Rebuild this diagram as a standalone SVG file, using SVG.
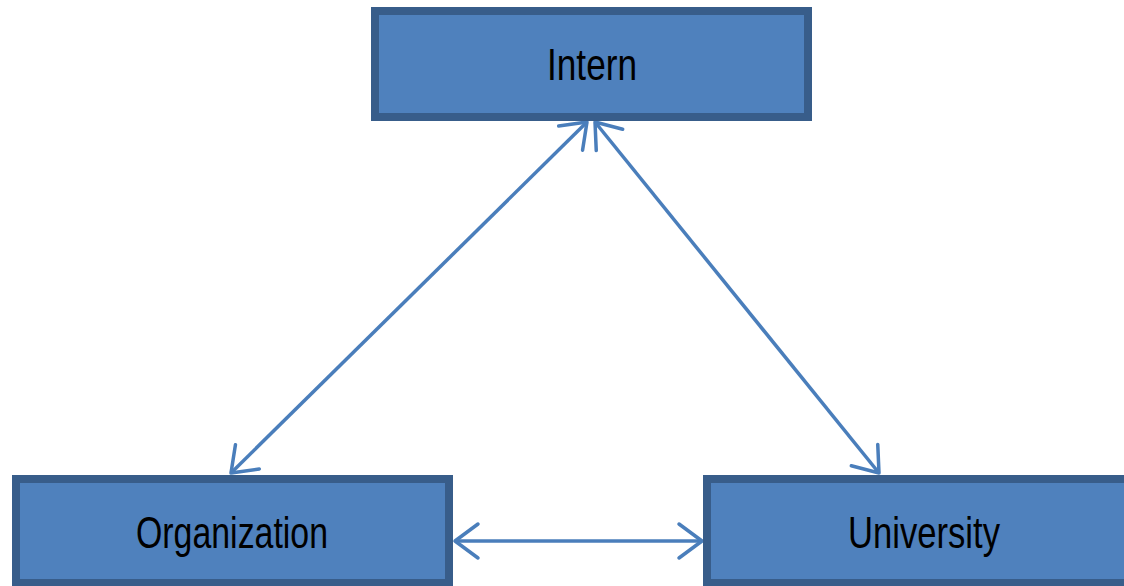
<svg xmlns="http://www.w3.org/2000/svg" width="1124" height="586" viewBox="0 0 1124 586">
<style>
.box{fill:#4f81bd;stroke:#385d8a;stroke-width:8}
.lbl{font-family:"Liberation Sans",Arial,sans-serif;font-size:44px;fill:#000;text-anchor:middle}
.conn{stroke:#4a7ebb;stroke-width:3.5;fill:none}
</style>
<defs>
<marker id="ah" markerUnits="userSpaceOnUse" viewBox="-30 -25 34 50" refX="0" refY="0" markerWidth="34" markerHeight="50" orient="auto-start-reverse" overflow="visible">
<path d="M-23,-17 L0,0 L-23,17" fill="none" stroke="#4a7ebb" stroke-width="3.5" stroke-linecap="round" stroke-linejoin="round"/>
</marker>
</defs>
<rect width="1124" height="586" fill="#fff"/>
<g id="connectors">
<line class="conn" x1="587" y1="122" x2="231" y2="473" marker-start="url(#ah)" marker-end="url(#ah)"/>
<line class="conn" x1="595" y1="122" x2="879" y2="473" marker-start="url(#ah)" marker-end="url(#ah)"/>
<line class="conn" x1="455" y1="541" x2="702" y2="541" marker-start="url(#ah)" marker-end="url(#ah)"/>
</g>
<g id="intern">
<rect class="box" x="375" y="11" width="433" height="106"/>
<text class="lbl" x="592" y="80" textLength="90" lengthAdjust="spacingAndGlyphs">Intern</text>
</g>
<g id="organization">
<rect class="box" x="16" y="479" width="433" height="104"/>
<text class="lbl" x="232" y="548" textLength="192" lengthAdjust="spacingAndGlyphs">Organization</text>
</g>
<g id="university">
<rect class="box" x="707" y="479" width="425" height="104"/>
<text class="lbl" x="924" y="548" textLength="152" lengthAdjust="spacingAndGlyphs">University</text>
</g>
</svg>
